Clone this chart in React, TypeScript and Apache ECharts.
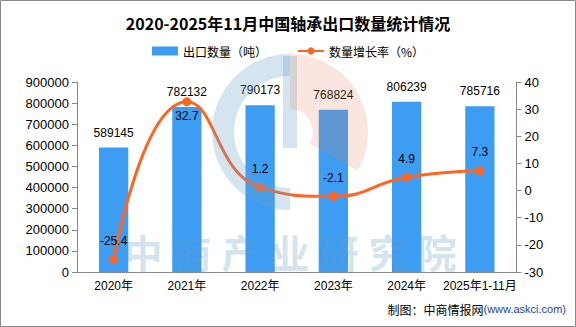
import React, { useEffect, useRef } from "react";
import * as echarts from "echarts";

const categories = ["2020年", "2021年", "2022年", "2023年", "2024年", "2025年1-11月"];
const exportVolume = [589145, 782132, 790173, 768824, 806239, 785716];
const growthRate = [-25.4, 32.7, 1.2, -2.1, 4.9, 7.3];
const titleText = "2020-2025年11月中国轴承出口数量统计情况";
const barName = "出口数量（吨）";
const lineName = "数量增长率（%）";
const watermarkChars = ["中", "商", "产", "业", "研", "究", "院"];

const FONT = "'Liberation Sans', 'Noto Sans CJK SC', sans-serif";
const CJK = "'Noto Sans CJK SC', sans-serif";

export default function App() {
  const ref = useRef<HTMLDivElement>(null);
  useEffect(() => {
    document.body.style.margin = "0";
    const chart = echarts.init(ref.current!, null, { renderer: "svg" });
    const wmText = watermarkChars.map((ch, i) => ({
      type: "text",
      z: 10,
      silent: true,
      x: 143 + i * 49,
      y: 251,
      style: {
        text: ch,
        fontSize: 39,
        fontWeight: "bold",
        fontFamily: CJK,
        fill: "rgba(100,160,200,0.3)",
        align: "center",
        verticalAlign: "middle",
      },
    }));
    chart.setOption({
      animation: false,
      backgroundColor: "#fff",
      textStyle: { fontFamily: FONT },
      title: {
        text: titleText,
        left: "center",
        top: 10,
        textStyle: { fontSize: 16, fontWeight: "bold", color: "#000", fontFamily: CJK },
      },
      legend: {
        top: 40,
        left: 147,
        itemGap: 30,
        itemWidth: 26,
        itemHeight: 9,
        textStyle: { fontSize: 12, color: "#000", fontFamily: CJK },
        data: [
          { name: barName, icon: "rect" },
          { name: lineName },
        ],
      },
      grid: { left: 77, right: 59.5, top: 82, bottom: 55, containLabel: false },
      xAxis: {
        type: "category",
        data: categories,
        axisLine: { lineStyle: { color: "#888" } },
        axisTick: { lineStyle: { color: "#888" } },
        axisLabel: { color: "#000", fontSize: 12, margin: 8, interval: 0, fontFamily: FONT },
      },
      yAxis: [
        {
          type: "value",
          min: 0,
          max: 900000,
          interval: 100000,
          splitLine: { show: false },
          axisLine: { show: true, lineStyle: { color: "#888" } },
          axisTick: { show: true, lineStyle: { color: "#888" } },
          axisLabel: { color: "#000", fontSize: 13, fontFamily: FONT, formatter: (v: number) => String(v) },
        },
        {
          type: "value",
          min: -30,
          max: 40,
          interval: 10,
          splitLine: { show: false },
          axisLine: { show: true, lineStyle: { color: "#888" } },
          axisTick: { show: true, lineStyle: { color: "#888" } },
          axisLabel: { color: "#000", fontSize: 13, fontFamily: FONT, formatter: (v: number) => String(v) },
        },
      ],
      series: [
        {
          name: barName,
          type: "bar",
          data: exportVolume,
          barWidth: "40%",
          itemStyle: { color: "#3D9DF3" },
          label: { show: true, position: "top", distance: 9, color: "#000", fontSize: 12, fontFamily: FONT },
          z: 2,
        },
        {
          name: lineName,
          type: "line",
          yAxisIndex: 1,
          smooth: true,
          data: growthRate.map((v, i) =>
            i === 1 ? { value: v, label: { position: "bottom", distance: 4 } } : v
          ),
          symbol: "circle",
          symbolSize: 9,
          lineStyle: { color: "#FF6420", width: 3 },
          itemStyle: { color: "#FF6420" },
          label: { show: true, position: "top", distance: 8, color: "#000", fontSize: 12, fontFamily: FONT },
          z: 3,
        },
      ],
      graphic: [
        {
          type: "sector",
          z: 10,
          silent: true,
          shape: { cx: 290, cy: 132, r: 78, r0: 56, startAngle: Math.PI / 2, endAngle: (Math.PI * 3) / 2, clockwise: true },
          style: { fill: "rgba(100,160,200,0.28)" },
        },
        {
          type: "rect",
          z: 10,
          silent: true,
          shape: { x: 283, y: 56, width: 14, height: 92 },
          style: { fill: "rgba(100,160,200,0.28)" },
        },
        {
          type: "sector",
          z: 10,
          silent: true,
          shape: { cx: 290, cy: 132, r: 78, r0: 23, startAngle: -Math.PI / 2, endAngle: Math.PI / 6, clockwise: true },
          style: { fill: "rgba(230,130,90,0.2)" },
        },
        ...wmText,
        {
          type: "text",
          right: 10,
          top: 303,
          style: {
            text: "{a|制图：中商情报网}{b|(www.askci.com)}",
            rich: {
              a: { fontSize: 12, fill: "#000", fontFamily: CJK },
              b: { fontSize: 11, fill: "#1F3F8F", fontFamily: FONT },
            },
          },
        },
        {
          type: "rect",
          silent: true,
          shape: { x: 0.5, y: 0.5, width: 575, height: 326 },
          style: { fill: "none", stroke: "#888", lineWidth: 1 },
        },
      ],
    });
    return () => chart.dispose();
  }, []);
  return <div ref={ref} style={{ width: 576, height: 327 }} />;
}
